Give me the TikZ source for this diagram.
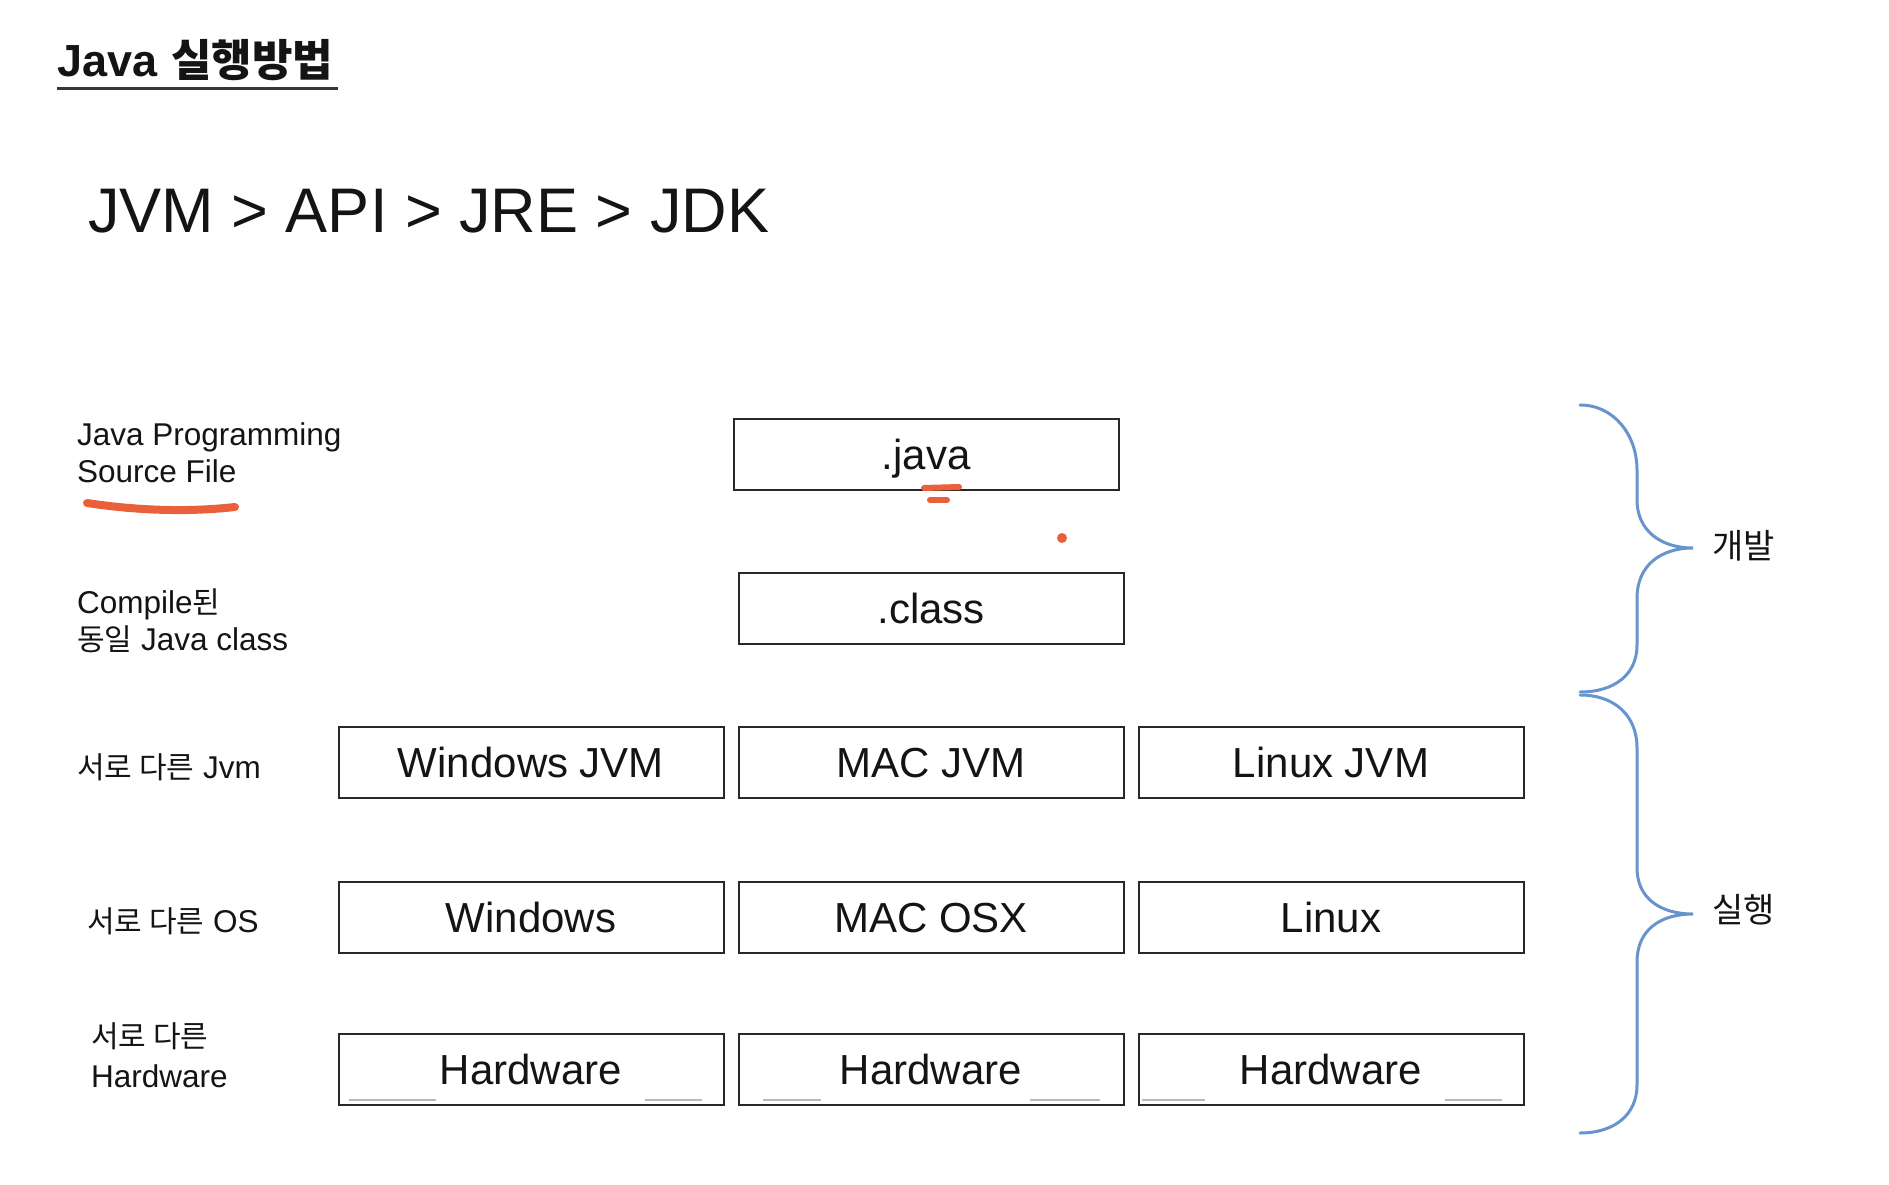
\documentclass[tikz,border=0pt]{standalone}
\usepackage{fontspec}
\setmainfont{Liberation Sans}
\newfontfamily\kr{Noto Sans CJK KR}
\definecolor{txt}{RGB}{20,20,20}
\definecolor{boxc}{RGB}{40,40,40}
\definecolor{bracec}{RGB}{104,148,206}
\definecolor{penc}{RGB}{233,96,58}
\newcommand{\krl}[1]{{\kr\fontsize{30}{36}\selectfont #1}}
\begin{document}
\begin{tikzpicture}[x=1pt,y=-1pt,
  box/.style={draw=boxc, line width=2pt, minimum width=385pt, minimum height=71pt, inner sep=0pt,
              text height=30pt, text depth=0pt, font=\fontsize{42}{50}\selectfont, text=txt},
  lbl/.style={anchor=base west, inner sep=0pt, font=\fontsize{31.5}{36}\selectfont, text=txt},
  side/.style={anchor=west, inner sep=0pt, font=\kr\fontsize{34}{36}\selectfont, text=txt},
  brace/.style={draw=bracec, line width=3pt, line cap=round},
  pen/.style={draw=penc, line width=8pt, line cap=round},
  smudge/.style={draw=gray!55, line width=2.5pt}]
\useasboundingbox[fill=white] (0,0) rectangle (1889,1185);

% title
\node[anchor=base west, inner sep=0pt, text=txt] (title) at (57,77)
  {\fontsize{45}{50}\selectfont\bfseries Java\hspace{14pt}{\kr\fontsize{44}{50}\selectfont\bfseries 실행방법}};
\draw[line width=3pt, draw=txt!85] (57,89) -- (338,89);

% chain
\node[anchor=base west, inner sep=0pt, text=txt, font=\fontsize{63}{70}\selectfont] (chain) at (88,233)
  {JVM > API > JRE > JDK};

% left labels
\node[lbl] (l1a) at (77,445) {Java Programming};
\node[lbl] (l1b) at (77,482) {Source File};
\node[lbl] (l2a) at (77,613) {Compile\krl{된}};
\node[lbl] (l2b) at (77,650) {\krl{동일} Java class};
\node[lbl] (l3) at (77,778) {\krl{서로 다른} Jvm};
\node[lbl] (l4) at (87,932) {\krl{서로 다른} OS};
\node[lbl] (l5a) at (91,1047) {\krl{서로 다른}};
\node[lbl] (l5b) at (91,1087) {Hardware};

% boxes
\node[box] (java) at (926,454) {.java};
\node[box] (class) at (931,608) {.class};
\node[box] (wjvm) at (531,762) {Windows JVM};
\node[box] (mjvm) at (931,762) {MAC JVM};
\node[box] (ljvm) at (1331,762) {Linux JVM};
\node[box] (wos) at (531,917) {Windows};
\node[box] (mos) at (931,917) {MAC OSX};
\node[box] (los) at (1331,917) {Linux};
\node[box] (whw) at (531,1069) {Hardware};
\node[box] (mhw) at (931,1069) {Hardware};
\node[box] (lhw) at (1331,1069) {Hardware};

% faint smudges on the hardware boxes
\draw[smudge] (349,1100) -- (436,1100);
\draw[smudge] (645,1100) -- (702,1100);
\draw[smudge] (763,1100) -- (821,1100);
\draw[smudge] (1030,1100) -- (1100,1100);
\draw[smudge] (1142,1100) -- (1205,1100);
\draw[smudge] (1445,1100) -- (1502,1100);

% orange pen marks
\draw[pen] (87,503) .. controls (140,511) and (190,512) .. (235,507);
\draw[pen, line width=6pt] (924,488) -- (959,487);
\draw[pen, line width=6pt] (930,500) -- (947,500);
\fill[penc] (1062,538) circle (5);

% braces
\draw[brace] (1580,405) .. controls (1614,405) and (1637,435) .. (1637,470) -- (1637,500)
  .. controls (1637,530) and (1660,548) .. (1693,548)
  .. controls (1660,548) and (1637,566) .. (1637,598) -- (1637,645)
  .. controls (1637,675) and (1614,692) .. (1580,692);
\draw[brace] (1580,695) .. controls (1614,695) and (1637,715) .. (1637,748) -- (1637,868)
  .. controls (1637,898) and (1660,914) .. (1693,914)
  .. controls (1660,914) and (1637,930) .. (1637,962) -- (1637,1085)
  .. controls (1637,1115) and (1614,1133) .. (1580,1133);

\node[side] (dev) at (1712,546) {개발};
\node[side] (run) at (1712,910) {실행};
\end{tikzpicture}
\end{document}
